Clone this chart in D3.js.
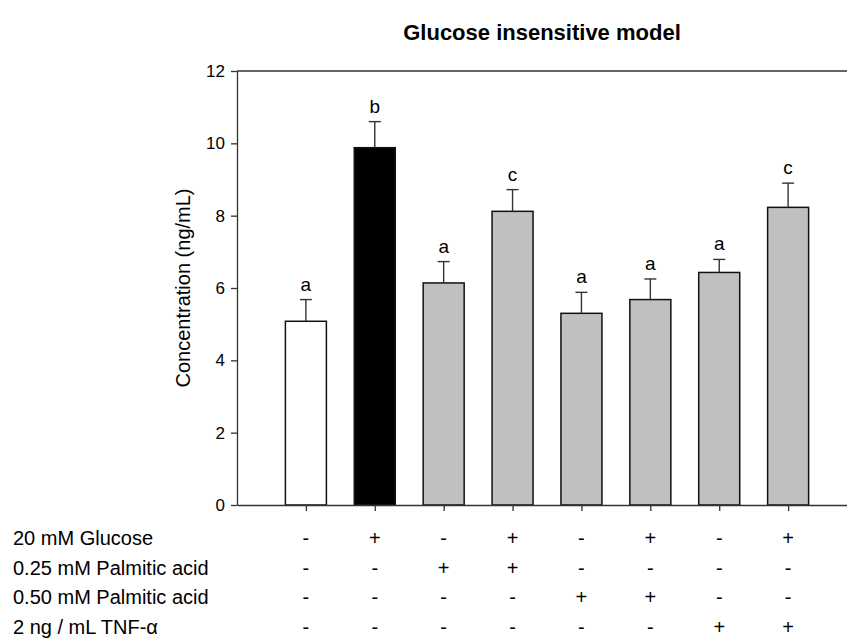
<!DOCTYPE html>
<html>
<head>
<meta charset="utf-8">
<script src="https://cdn.jsdelivr.net/npm/d3@7"></script>
<style>
  body { margin: 0; background: #fff; }
  text { font-family: "Liberation Sans", Arial, sans-serif; fill: #000; }
</style>
</head>
<body>
<div class="chart"></div>
<script>
// Data
const groups = ['G1', 'G2', 'G3', 'G4', 'G5', 'G6', 'G7', 'G8']
const means = [5.08, 9.88, 6.14, 8.12, 5.30, 5.68, 6.43, 8.23]
const errors = [0.60, 0.72, 0.59, 0.60, 0.58, 0.57, 0.36, 0.67]
const letters = ['a', 'b', 'a', 'c', 'a', 'a', 'a', 'c']
const fills = ['#ffffff', '#000000', '#c0c0c0', '#c0c0c0', '#c0c0c0', '#c0c0c0', '#c0c0c0', '#c0c0c0']
const yTicks = [0, 2, 4, 6, 8, 10, 12]
const treatments = ['20 mM Glucose', '0.25 mM Palmitic acid', '0.50 mM Palmitic acid', '2 ng / mL TNF-\u03b1']
const signs = [
  ['-', '+', '-', '+', '-', '+', '-', '+'],
  ['-', '-', '+', '+', '-', '-', '-', '-'],
  ['-', '-', '-', '-', '+', '+', '-', '-'],
  ['-', '-', '-', '-', '-', '-', '+', '+']
]

const width = 847
const height = 639
const plotLeft = 237
const plotRight = 857
const plotTop = 71
const plotBottom = 505

const svg = d3.select('.chart').append('svg')
  .attr('width', width)
  .attr('height', height)

const x = d3.scalePoint().domain(groups).range([plotLeft, plotRight]).padding(1)
const y = d3.scaleLinear().domain([0, 12]).range([plotBottom, plotTop])
const barW = 41

// title
svg.append('text')
  .attr('x', (plotLeft + width) / 2)
  .attr('y', 40)
  .attr('text-anchor', 'middle')
  .style('font-size', '22px')
  .style('font-weight', 'bold')
  .text('Glucose insensitive model')

// top frame line
svg.append('line')
  .attr('x1', plotLeft).attr('x2', plotRight)
  .attr('y1', plotTop).attr('y2', plotTop)
  .attr('stroke', '#333').attr('stroke-width', 1.3)

// bars
svg.selectAll('rect.bar')
  .data(groups)
  .enter()
  .append('rect')
  .attr('class', 'bar')
  .attr('x', d => x(d) - barW / 2)
  .attr('width', barW)
  .attr('y', (d, i) => y(means[i]))
  .attr('height', (d, i) => plotBottom - y(means[i]))
  .attr('fill', (d, i) => fills[i])
  .attr('stroke', '#111')
  .attr('stroke-width', 1.5)

// error bars (upper only)
const err = svg.selectAll('g.err')
  .data(groups)
  .enter()
  .append('g')
  .attr('class', 'err')
  .attr('stroke', '#333')
  .attr('stroke-width', 1.4)

err.append('line')
  .attr('x1', d => x(d)).attr('x2', d => x(d))
  .attr('y1', (d, i) => y(means[i]))
  .attr('y2', (d, i) => y(means[i] + errors[i]))

err.append('line')
  .attr('x1', d => x(d) - 6).attr('x2', d => x(d) + 6)
  .attr('y1', (d, i) => y(means[i] + errors[i]))
  .attr('y2', (d, i) => y(means[i] + errors[i]))

// significance letters
svg.selectAll('text.letter')
  .data(groups)
  .enter()
  .append('text')
  .attr('class', 'letter')
  .attr('x', d => x(d))
  .attr('y', (d, i) => y(means[i] + errors[i]) - 9)
  .attr('text-anchor', 'middle')
  .style('font-size', '19px')
  .text((d, i) => letters[i])

// y axis
const yAxis = svg.append('g')
  .attr('transform', `translate(${plotLeft},0)`)
  .call(d3.axisLeft(y).tickValues(yTicks).tickSize(6).tickPadding(6).tickSizeOuter(0))
yAxis.select('.domain').attr('stroke', '#333').attr('stroke-width', 1.3)
yAxis.selectAll('.tick line').attr('stroke', '#333').attr('stroke-width', 1.3)
yAxis.selectAll('.tick text')
  .style('font-family', '"Liberation Sans", Arial, sans-serif')
  .style('font-size', '17px')
  .attr('fill', '#000')

svg.append('text')
  .attr('transform', `translate(183,${(plotTop + plotBottom) / 2}) rotate(-90)`)
  .attr('text-anchor', 'middle')
  .attr('dy', '0.35em')
  .style('font-size', '20px')
  .text('Concentration (ng/mL)')

// x axis (ticks only, no labels)
const xAxis = svg.append('g')
  .attr('transform', `translate(0,${plotBottom})`)
  .call(d3.axisBottom(x).tickSize(6).tickSizeOuter(0).tickFormat(''))
xAxis.select('.domain').attr('stroke', '#333').attr('stroke-width', 1.3)
xAxis.selectAll('.tick line').attr('stroke', '#333').attr('stroke-width', 1.3)

// treatment table
const rowY = d3.scalePoint().domain(treatments).range([538, 627])

svg.selectAll('text.treat')
  .data(treatments)
  .enter()
  .append('text')
  .attr('class', 'treat')
  .attr('x', 13)
  .attr('y', d => rowY(d))
  .attr('dy', '0.35em')
  .style('font-size', '20px')
  .text(d => d)

treatments.forEach((t, r) => {
  svg.selectAll(null)
    .data(groups)
    .enter()
    .append('text')
    .attr('x', d => x(d))
    .attr('y', rowY(t))
    .attr('dy', '0.35em')
    .attr('text-anchor', 'middle')
    .style('font-size', '20px')
    .text((d, i) => signs[r][i])
})
</script>
</body>
</html>
